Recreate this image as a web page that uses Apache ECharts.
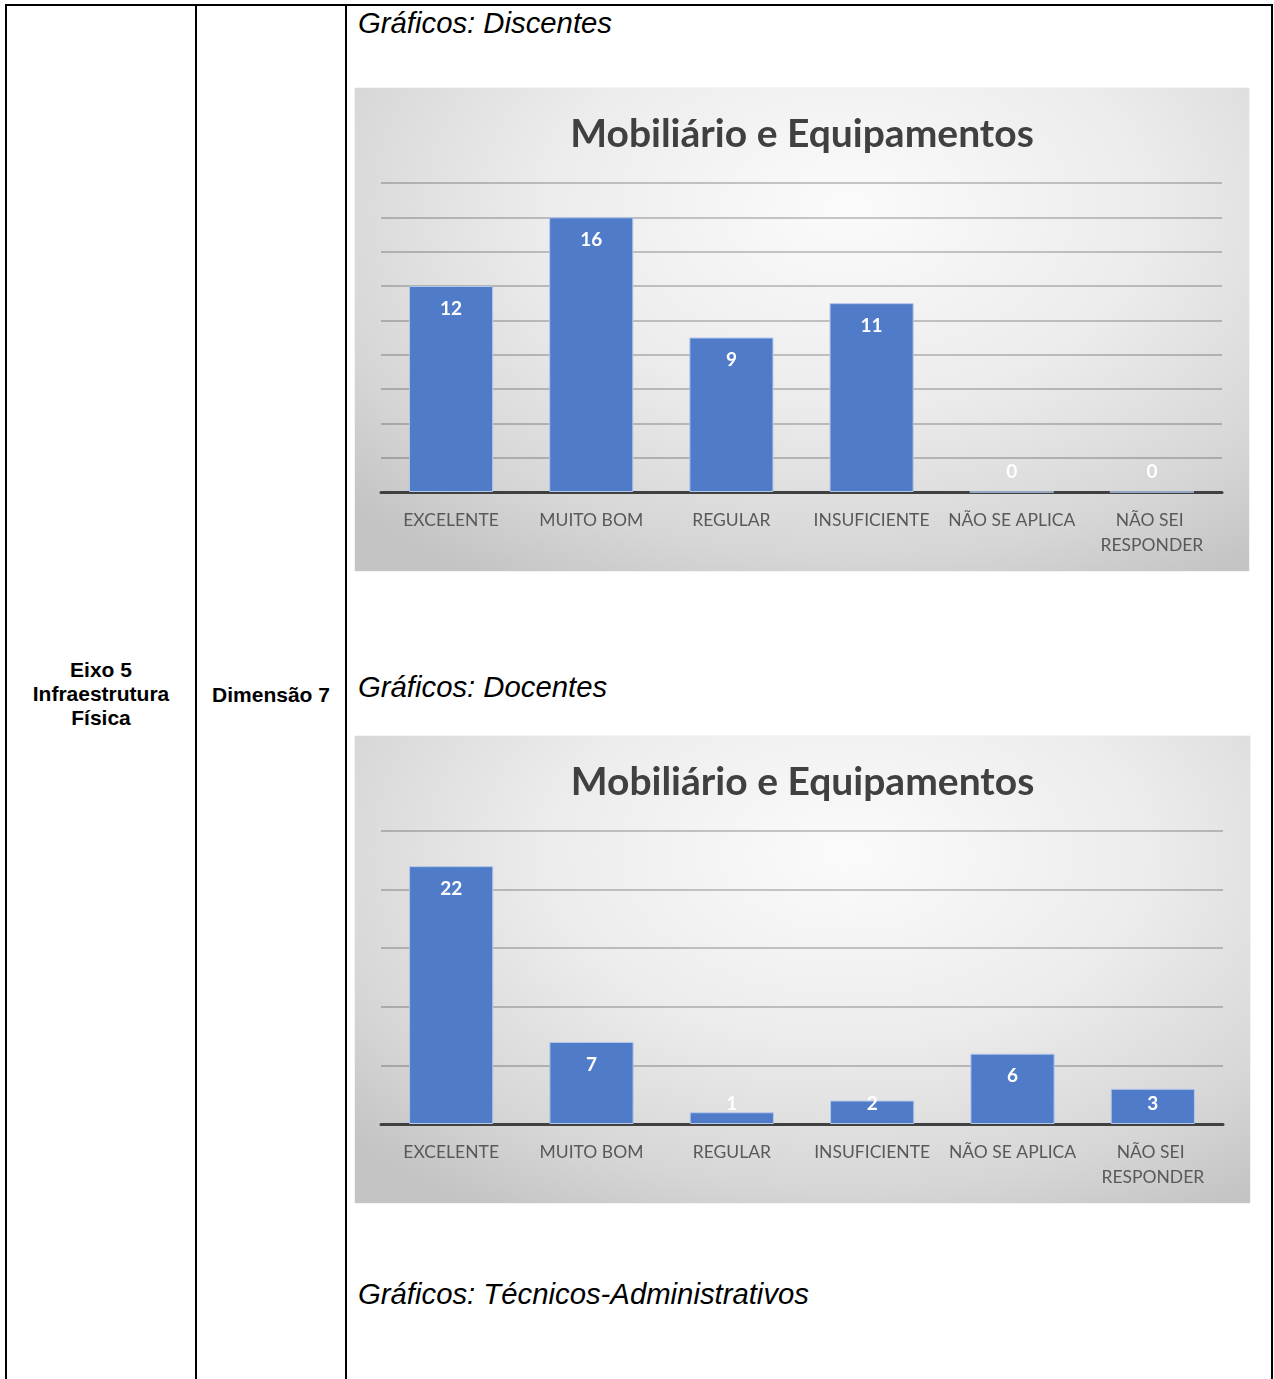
<!DOCTYPE html>
<html>
<head>
<meta charset="utf-8">
<script src="https://cdn.jsdelivr.net/npm/echarts@6/dist/echarts.min.js"></script>
<style>
  html, body { margin: 0; padding: 0; background: #fff; width: 1274px; height: 1379px; overflow: hidden; }
  .line { position: absolute; background: #000; }
  .txt { position: absolute; font-family: "Liberation Sans", Arial, sans-serif; color: #000; white-space: nowrap; }
  .head { font-style: italic; font-size: 29.3px; line-height: 34px; left: 358px; }
  .cell { font-weight: bold; font-size: 21px; line-height: 24px; text-align: center; }
  .chart { position: absolute;
    background: radial-gradient(ellipse 75% 90% at 55% 25%, #fbfbfb 0%, #ececec 45%, #d6d6d6 80%, #c4c4c4 100%);
    box-shadow: 0 0 1px rgba(0,0,0,0.25); }
</style>
</head>
<body>
<div class="line" style="left:5px; top:4px; width:1268px; height:2px;"></div>
<div class="line" style="left:5px; top:4px; width:2px; height:1375px;"></div>
<div class="line" style="left:195px; top:4px; width:2px; height:1375px;"></div>
<div class="line" style="left:345px; top:4px; width:2px; height:1375px;"></div>
<div class="line" style="left:1271px; top:4px; width:2px; height:1375px;"></div>

<div class="txt cell" style="left:7px; width:188px; top:658px;">Eixo 5<br>Infraestrutura<br>Física</div>
<div class="txt cell" style="left:197px; width:148px; top:683px;">Dimensão 7</div>

<div class="txt head" style="top:6px;">Gráficos: Discentes</div>
<div class="txt head" style="top:670px;">Gráficos: Docentes</div>
<div class="txt head" style="top:1277px;">Gráficos: Técnicos-Administrativos</div>

<div id="c1" class="chart" style="left:355px; top:88px; width:894px; height:483px;"></div>
<div id="c2" class="chart" style="left:355px; top:736px; width:895px; height:467px;"></div>

<script>
const chartTitle = 'Mobiliário e Equipamentos';
const categories = ['EXCELENTE', 'MUITO BOM', 'REGULAR', 'INSUFICIENTE', 'NÃO SE APLICA', 'NÃO SEI RESPONDER'];
const discentesValues = [12, 16, 9, 11, 0, 0];
const docentesValues = [22, 7, 1, 2, 6, 3];
const discentesAxis = { max: 18, interval: 2 };
const docentesAxis = { max: 25, interval: 5 };

function makeChart(el, values, axis) {
  const chart = echarts.init(el, null, { renderer: 'canvas' });
  const option = {
    backgroundColor: 'transparent',
    animation: false,
    title: {
      text: chartTitle, left: 'center', top: 22,
      textStyle: { fontFamily: 'Lato', fontWeight: 'bold', fontSize: 39, color: '#404040' }
    },
    grid: { left: 26, right: 27, top: 95, bottom: 79, containLabel: false },
    xAxis: {
      type: 'category', data: categories,
      axisLine: { lineStyle: { color: '#404040', width: 3 } },
      axisTick: { show: false },
      axisLabel: {
        interval: 0, margin: 16, fontFamily: 'Lato', fontSize: 17.5, color: '#595959',
        lineHeight: 25, width: 140, overflow: 'break'
      }
    },
    yAxis: {
      type: 'value', min: 0, max: axis.max, interval: axis.interval,
      axisLabel: { show: false }, axisLine: { show: false }, axisTick: { show: false },
      splitLine: { lineStyle: { color: 'rgba(0,0,0,0.28)', width: 1.5 } }
    },
    series: [{
      type: 'bar', barWidth: '60%',
      data: values,
      itemStyle: { color: '#4f7bc8', borderColor: '#b4c7ea', borderWidth: 1 },
      label: {
        show: true, position: 'insideTop', distance: 13,
        fontFamily: 'Lato', fontWeight: 'bold', fontSize: 19, color: '#ffffff'
      }
    }]
  };
  chart.setOption(option);
  // Excel places "inside end" labels so they never sink below the axis: pick position per bar
  const base = chart.convertToPixel({ seriesIndex: 0 }, [0, 0])[1];
  const items = values.map(function (v, i) {
    const top = chart.convertToPixel({ seriesIndex: 0 }, [i, v])[1];
    const h = base - top;
    if (h < 44) {
      return { value: v, label: { position: 'insideBottom', distance: 11 } };
    }
    return { value: v };
  });
  chart.setOption({ series: [{ data: items }] });
  return chart;
}

makeChart(document.getElementById('c1'), discentesValues, discentesAxis);
makeChart(document.getElementById('c2'), docentesValues, docentesAxis);
</script>
</body>
</html>
